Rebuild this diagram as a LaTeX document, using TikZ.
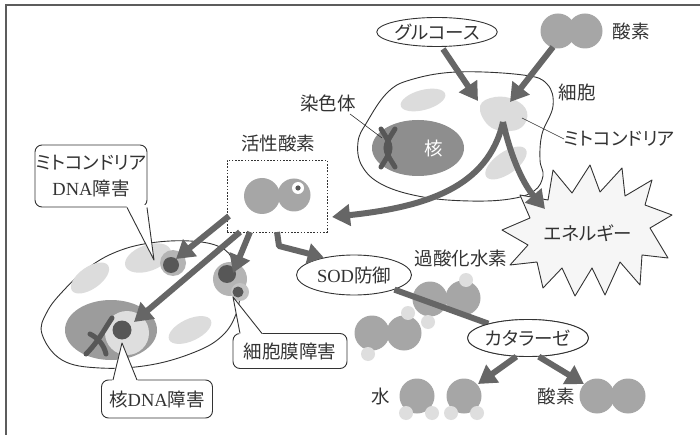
\documentclass[tikz,border=0pt]{standalone}
\usepackage{fontspec}
\setmainfont{Liberation Serif}
\newfontfamily\jp[RawFeature=+palt]{Noto Sans CJK JP}
\usetikzlibrary{arrows.meta,shapes.geometric}

\definecolor{ink}{HTML}{333333}
\definecolor{arrowgray}{HTML}{666666}
\definecolor{molgray}{HTML}{A6A6A6}
\definecolor{hgray}{HTML}{DEDEDE}
\definecolor{mitogray}{HTML}{DCDCDC}
\definecolor{nucgray}{HTML}{8E8E8E}
\definecolor{nucgraylt}{HTML}{9C9C9C}
\definecolor{chromgray}{HTML}{575757}
\definecolor{burstfill}{HTML}{F6F6F6}
\definecolor{ringgray}{HTML}{B4B4B4}

\newcommand{\lblfont}{\jp\fontsize{18.5}{26}\selectfont}
\newcommand{\latin}[1]{{\fontspec{Liberation Serif}#1}}

\tikzset{
  lbl/.style={font=\lblfont, text=ink, inner sep=0pt},
  oval/.style={ellipse, draw=ink, line width=0.9pt, fill=white, inner sep=0pt,
    font=\lblfont, text=ink},
  callout/.style={draw=ink, line width=0.9pt, rounded corners=7pt, fill=white,
    align=center, inner sep=0pt, font=\lblfont, text=ink},
  bigarrow/.style={draw=arrowgray, line width=6pt, -{Triangle[length=18pt,width=21pt]}},
  thinlead/.style={draw=ink, line width=0.6pt},
  outline/.style={draw=ink, line width=0.9pt},
  atom/.style={fill=molgray},
  hatom/.style={fill=hgray},
  mito/.style={fill=mitogray},
  chrom/.style={draw=chromgray, line width=5pt, line cap=round},
  tailfill/.style={fill=white},
  tailline/.style={draw=ink, line width=0.9pt, line join=round},
}

\begin{document}
\begin{tikzpicture}[x=1pt,y=-1pt]
\useasboundingbox (0,0) rectangle (700,435);

% frame
\draw[draw=ink!80, line width=1.4pt] (6,435) -- (6,5) -- (700,5);

% ---------------- upper cell ----------------
\draw[outline, fill=white] plot[smooth cycle, tension=0.65] coordinates {
  (387,93) (410,80) (457,72) (523,75) (547,84) (553,106) (542,134) (540,160)
  (543,176) (534,191) (510,199) (470,201) (423,197) (383,185) (362,166)
  (358,142) (367,122)};
\fill[mito, rotate around={15:(423,100)}] (423,100) ellipse (23 and 10);
\fill[mito] plot[smooth cycle, tension=0.7] coordinates {
  (480,106) (495,97) (515,100) (527,112) (522,127) (505,131) (488,125)};
\fill[mito, rotate around={35:(506,163)}] (506,163) ellipse (24 and 11);
\fill[fill=nucgray] (418,148) ellipse (46 and 28);
\draw[chrom] (381,129) .. controls (393,148) .. (381,167);
\draw[chrom] (395,129) .. controls (383,148) .. (395,167);
\node[lbl, text=white] (nuc) at (434,149) {核};
\coordinate (mito) at (503,122);

% labels around the upper cell
\node[lbl] (chromlbl) at (328,103) {染色体};
\draw[thinlead] (350,114) -- (382,138);
\node[lbl] (celllbl) at (577,92) {細胞};
\node[lbl, anchor=west] (mitolbl) at (564,139) {ミトコンドリア};
\draw[thinlead] (522,118) -- (mitolbl.west);

% glucose and oxygen feeding the mitochondrion
\node[oval, minimum width=115pt, minimum height=29pt] (glu) at (437,32) {グルコース};
\fill[atom] (558,31) circle (17.5);
\fill[atom] (585,31) circle (17.5);
\coordinate (o2top) at (553,47);
\node[lbl] (o2lbl) at (631,31) {酸素};
\coordinate (mitoA) at (478,101);
\coordinate (mitoB) at (510,102);
\draw[bigarrow] (443,49) -- (mitoA);
\draw[bigarrow] (o2top) -- (mitoB);

% energy burst
\draw[outline, fill=burstfill, line join=round] (502,230) -- (530,218) -- (520,195)
  -- (548,200) -- (553,170) -- (572,193) -- (590,165) -- (600,192) -- (622,168)
  -- (625,196) -- (652,180) -- (645,205) -- (672,215) -- (650,228) -- (668,258)
  -- (642,255) -- (640,285) -- (620,262) -- (605,295) -- (592,268) -- (575,296)
  -- (562,268) -- (543,288) -- (537,262) -- (510,265) -- (528,245) -- cycle;
\node[lbl] (energy) at (588,233) {エネルギー};
\coordinate (burstin) at (545,209);

% ---------------- reactive oxygen ----------------
\node[lbl] (roslbl) at (278,143) {活性酸素};
\node[draw=ink, line width=0.9pt, dash pattern=on 1.6pt off 1.6pt,
  minimum width=100pt, minimum height=72pt, inner sep=0pt] (radbox) at (277,196) {};
\fill[atom] (262,196) circle (18);
\fill[atom] (294,195) circle (16.5);
\fill[white] (298,188) circle (6);
\fill[chromgray] (298,188) circle (2.6);
\coordinate (boxin) at (332,217);

\draw[bigarrow] (mito) .. controls (488,188) and (425,207) .. (boxin);
\draw[bigarrow] (mito) .. controls (512,162) and (525,186) .. (burstin);

% ---------------- damaged cell ----------------
\draw[outline, fill=white] plot[smooth cycle, tension=0.65] coordinates {
  (42,334) (47,312) (64,290) (88,268) (116,252) (150,243) (190,241) (220,247)
  (234,262) (240,288) (236,314) (222,336) (195,352) (150,365) (100,368) (62,360)};
\fill[mito, rotate around={35:(90,278)}] (90,278) ellipse (22 and 11);
\fill[mito, rotate around={20:(148,258)}] (148,258) ellipse (24 and 13);
\fill[mito, rotate around={25:(190,330)}] (190,330) ellipse (23 and 11);
% mitochondrial damage
\fill[ringgray] (173,263) circle (13);
\fill[chromgray] (171,265) circle (8);
\coordinate (mitodmg) at (176,259);
% nucleus
\fill[nucgraylt] (111,330) ellipse (46 and 30);
\fill[hgray] (127,333) circle (22);
\fill[chromgray] (122,330) circle (9.5);
\draw[chrom] (86,354) .. controls (98,342) and (104,330) .. (112,318);
\draw[chrom] (90,334) .. controls (98,338) and (104,345) .. (106,354);
\coordinate (nucdmg) at (134,322);
% membrane damage
\fill[ringgray] (230,279) circle (17);
\fill[chromgray] (227,274) circle (9);
\fill[ringgray!80] (240,292) circle (9);
\fill[chromgray] (238,292) circle (5.5);
\coordinate (memdmg) at (233,273);

% attacks from the reactive oxygen
\draw[bigarrow] (229,216) -- (mitodmg);
\draw[bigarrow] (240,232) -- (nucdmg);
\draw[bigarrow] (250,232) -- (memdmg);

% damage callouts
\node[callout, minimum width=112pt, minimum height=62pt] (mcall) at (91,176)
  {ミトコンドリア\\\latin{DNA}障害};
\fill[tailfill] (126,205) -- (154,260) -- (148,205) -- cycle;
\draw[tailline] (127,207.5) -- (154,260) -- (147,207.5);

\node[callout, minimum width=111pt, minimum height=38pt] (ncall) at (157,399)
  {核\latin{DNA}障害};
\fill[tailfill] (112,381.5) -- (122,343) -- (138,381.5) -- cycle;
\draw[tailline] (113,380) -- (122,343) -- (137,380);

\node[callout, minimum width=114pt, minimum height=35pt] (ccall) at (290,351)
  {細胞膜障害};
\fill[tailfill] (239,334.5) -- (233,297) -- (263,334.5) -- cycle;
\draw[tailline] (240,333.5) -- (233,297) -- (262,333.5);

% ---------------- defence ----------------
\node[oval, minimum width=115pt, minimum height=40pt] (sod) at (354,275)
  {\latin{SOD}防御};
\draw[bigarrow, -{Triangle[length=16pt,width=20pt]}, line join=round]
  (277,232) -- (279,246) -- (sod.150);

\node[lbl] (h2o2lbl) at (461,258) {過酸化水素};
% hydrogen peroxide molecules
\fill[atom] (430,299) circle (17.5);
\fill[atom] (463,298) circle (17.5);
\fill[hatom] (466,280) circle (7);
\fill[hatom] (428,322) circle (7);
\fill[atom] (372,333) circle (17.5);
\fill[atom] (404,333) circle (17.5);
\fill[hatom] (408,313) circle (7);
\fill[hatom] (368,354) circle (7);

\node[oval, minimum width=113pt, minimum height=37pt] (cat) at (528,338) {カタラーゼ};
\draw[draw=arrowgray, line width=6pt] (sod) -- (cat);
\node[oval, minimum width=113pt, minimum height=37pt] at (cat) {カタラーゼ};

% products
\coordinate (water) at (478,384);
\coordinate (oxy) at (584,384);
\draw[bigarrow] (cat.238) -- (water);
\draw[bigarrow] (cat.300) -- (oxy);

\node[lbl] (waterlbl) at (381,396) {水};
\fill[atom] (417,396) circle (17.5);
\fill[hatom] (406,413) circle (7);
\fill[hatom] (432,413) circle (7);
\fill[atom] (464,396) circle (17.5);
\fill[hatom] (451,413) circle (7);
\fill[hatom] (477,413) circle (7);

\node[lbl] (o2lbl2) at (556,396) {酸素};
\fill[atom] (597,396) circle (17.5);
\fill[atom] (628,396) circle (17.5);
\end{tikzpicture}
\end{document}
